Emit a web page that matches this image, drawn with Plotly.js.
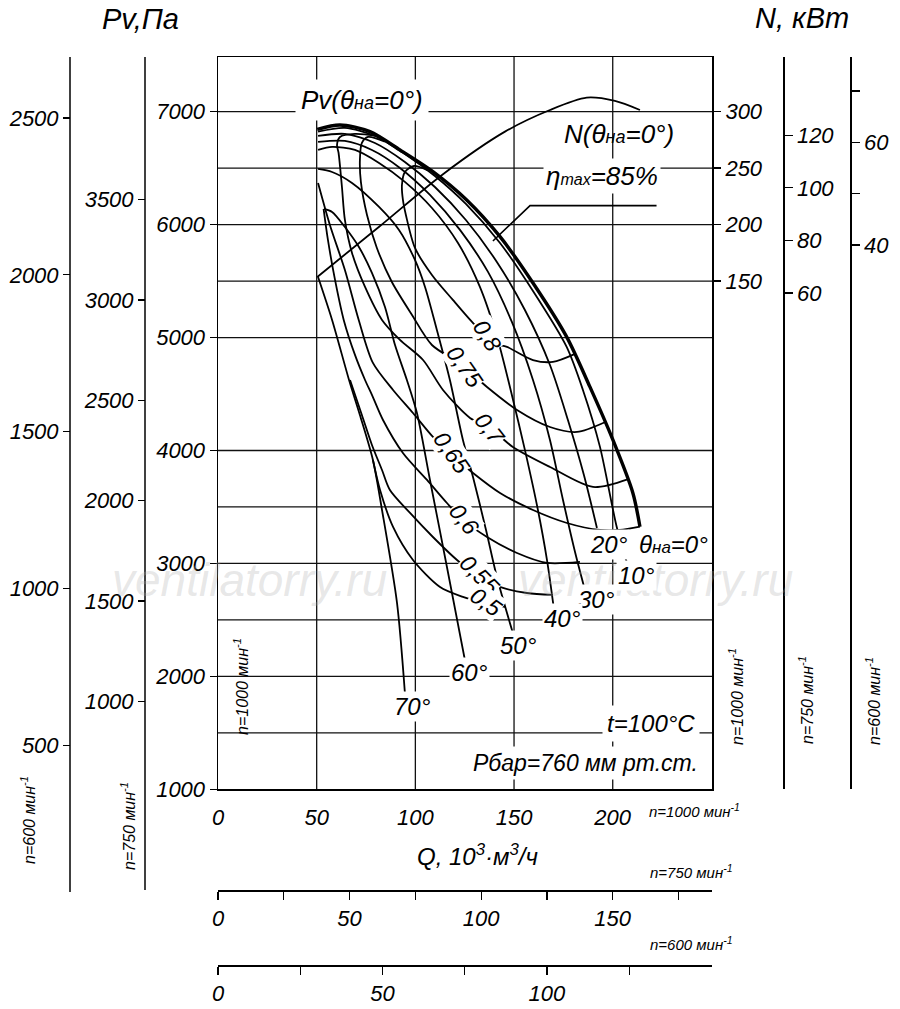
<!DOCTYPE html>
<html><head><meta charset="utf-8">
<script src="https://cdn.plot.ly/plotly-3.0.1.min.js"></script>
<style>html,body{margin:0;padding:0;background:#fff}#chart{width:900px;height:1009px}</style>
</head><body><div id="chart"></div>
<script>
// ---------- data (Q in 10^3 m3/h at n=1000, Pv in Pa, N in kW) ----------
const q_t0  = [50.3, 61.8, 77.0, 92.2, 108.9, 126.0, 142.9, 159.6, 176.6, 188.4, 200.1, 210.2, 213.8];
const pv_t0 = [6844, 6882, 6823, 6661, 6469, 6218, 5893, 5483, 5008, 4565, 4093, 3624, 3325];
const q_t10  = [50.7, 64.3, 79.5, 94.7, 109.9, 125.6, 142.9, 159.6, 176.6, 184.9, 193.5, 202.0, 207.7];
const pv_t10 = [6823, 6856, 6785, 6626, 6431, 6183, 5837, 5412, 4919, 4536, 4034, 3325, 2977];
const q_t20  = [50.7, 64.3, 79.5, 94.7, 109.9, 125.6, 141.3, 155.5, 168.2, 177.3, 185.4, 192.0];
const pv_t20 = [6785, 6803, 6723, 6555, 6333, 6041, 5669, 5244, 4757, 4270, 3783, 3314];
const q_t30  = [50.7, 64.3, 78.0, 92.2, 107.4, 122.6, 136.8, 148.9, 159.6, 168.2, 174.8, 180.9, 185.9];
const pv_t30 = [6732, 6741, 6661, 6502, 6263, 5953, 5581, 5138, 4624, 4093, 3562, 3101, 2765];
const q_t40  = [50.7, 57.8, 69.4, 81.6, 94.7, 108.4, 121.6, 132.7, 141.8, 148.9, 155.5, 162.1, 166.7, 170.2];
const pv_t40 = [6661, 6688, 6661, 6546, 6378, 6147, 5837, 5448, 4979, 4492, 4005, 3473, 3030, 2597];
const q_t50  = [50.7, 57.8, 67.9, 81.6, 91.7, 99.8, 104.9, 110.9, 117.5, 124.1, 129.2, 135.8, 141.3, 149.4];
const pv_t50 = [6493, 6466, 6369, 6156, 5953, 5687, 5448, 5067, 4624, 4093, 3765, 3296, 2880, 2384];
const q_t60  = [53.7, 57.8, 64.3, 71.4, 78.0, 84.6, 89.7, 95.7, 100.8, 107.4, 116.0, 125.1];
const pv_t60 = [6139, 6112, 5979, 5802, 5572, 5271, 4934, 4624, 4332, 3739, 2968, 2145];
const q_t70  = [50.7, 57.8, 66.4, 71.9, 78.5, 83.1, 90.7, 94.7];
const pv_t70 = [5536, 5156, 4624, 4314, 3916, 3473, 2650, 1853];

const q_e80  = [106.4, 99.3, 94.7, 93.2, 93.7, 95.2, 99.8, 108.4, 119.0, 128.7, 139.3, 146.4, 159.6, 169.7, 180.9];
const pv_e80 = [6480, 6519, 6466, 6351, 6218, 6085, 5793, 5554, 5333, 5138, 4952, 4917, 4801, 4784, 4855];
const q_e75  = [84.6, 76.0, 72.9, 71.9, 72.4, 75.5, 80.5, 88.1, 98.3, 108.4, 123.6, 136.3, 151.5, 168.2, 181.9, 196.0];
const pv_e75 = [6735, 6776, 6723, 6572, 6378, 6085, 5793, 5492, 5200, 4934, 4757, 4562, 4359, 4208, 4164, 4250];
const q_e70  = [81.1, 69.4, 61.8, 60.3, 61.1, 62.8, 64.3, 67.9, 74.5, 83.1, 92.2, 103.9, 114.0, 127.7, 137.8, 149.4, 168.2, 190.0, 207.5];
const pv_e70 = [6785, 6803, 6776, 6705, 6634, 6333, 6041, 5749, 5448, 5156, 4979, 4801, 4536, 4288, 4199, 4031, 3854, 3677, 3745];
const q_e65  = [50.7, 56.7, 64.3, 71.3, 78.5, 88.7, 98.8, 108.9, 118.5, 129.2, 142.9, 159.6, 176.8, 193.5, 203.6, 213.8];
const pv_e65 = [6369, 5997, 5598, 5156, 4775, 4536, 4332, 4120, 3960, 3801, 3624, 3473, 3358, 3296, 3296, 3325];
const q_e60  = [53.5, 55.7, 59.3, 63.7, 69.4, 74.5, 78.0, 83.6, 93.7, 105.9, 116.0, 124.1, 136.3, 151.5, 166.7, 183.4];
const pv_e60 = [6139, 5864, 5510, 5156, 4846, 4624, 4492, 4270, 3978, 3739, 3535, 3385, 3234, 3092, 3004, 3013];
const q_e55  = [66.9, 72.9, 78.0, 83.1, 87.1, 97.3, 108.9, 121.1, 132.7, 144.4, 156.5, 169.7];
const pv_e55 = [4624, 4314, 4049, 3827, 3650, 3447, 3234, 3030, 2871, 2783, 2738, 2721];
const q_e50  = [78.5, 82.1, 88.7, 98.8, 112.5, 124.1, 134.2, 145.9];
const pv_e50 = [3916, 3650, 3323, 3030, 2791, 2703, 2650, 2614];

const q_N = [50.3, 82.1, 113.5, 145.4, 168.2, 186.8, 201.1, 213.8];
const n_N = [153.6, 198.8, 244.0, 282.3, 301.5, 312.4, 309.5, 301.5];

const q_ptr  = [139.3, 158.1, 222.2];
const pv_ptr = [5855, 6168, 6168];

const gridPv = [1500, 2000, 2500, 3000, 3500, 4000, 5000, 5500, 6000, 6500, 7000];
const gridQ  = [50, 100, 150, 200];

const pvTicks1000 = [1000, 2000, 3000, 4000, 5000, 6000, 7000];
const pvTicks750  = [1000, 1500, 2000, 2500, 3000, 3500];
const pvTicks600  = [500, 1000, 1500, 2000, 2500];
const nTicks1000 = [150, 200, 250, 300];
const nTicks750  = [60, 80, 100, 120];
const nTicks600  = [40, 50, 60, 70];
const nText600   = ['40', ' ', '60', ' '];
const qTicks1000 = [0, 50, 100, 150, 200];
const qTicks750  = [0, 25, 50, 75, 100, 125, 150, 175];
const qText750   = ['0', ' ', '50', ' ', '100', ' ', '150', ' '];
const qTicks600  = [0, 25, 50, 75, 100, 125];
const qText600   = ['0', ' ', '50', ' ', '100', ' '];

const effLabels = ['0,8', '0,75', '0,7', '0,65', '0,6', '0,55', '0,5'];
const effLabQ   = [136.5, 125.1, 137.8, 118.5, 124.6, 132.7, 135.8];
const effLabPv  = [5014, 4739, 4190, 3978, 3393, 2898, 2659];
const degLabels = ['20°', 'θ<span style="font-size:17px">на</span>=0°', '10°', '30°', '40°', '50°', '60°', '70°'];
const degLabQ   = [198.1, 231.0, 211.8, 192.0, 174.3, 152.5, 127.2, 98.8];
const degLabPv  = [3172, 3172, 2889, 2685, 2508, 2269, 2030, 1729];

// ---------- scales ----------
const QMAX = 250.3, PVMIN = 1000, PVMAX = 7484;
const K750 = 0.5625, K600 = 0.36;        // pressure ratio for other speeds
const KN750 = 0.43, KN600 = 0.22;        // power axis ratios
const NMIN = PVMIN / 10 - 400, NMAX = PVMAX / 10 - 400;

const PX = x => (x - 70) / 780, PY = y => (965 - y) / 908;
const XD = [PX(218), PX(712)], YD0 = PY(789.3);

const FAM = 'Liberation Sans, Arial, sans-serif';
const f = (s, c) => ({family: FAM, style: 'italic', size: s, color: c || '#000'});

function curve(q, v, w, yax, shape) {
  return {x: q, y: v, type: 'scatter', mode: 'lines', yaxis: yax || 'y', hoverinfo: 'skip',
    line: {color: '#000', width: w, shape: shape || 'spline', smoothing: 0.8}};
}
const traces = [
  curve(q_t10, pv_t10, 1.8), curve(q_t20, pv_t20, 1.8), curve(q_t30, pv_t30, 1.8),
  curve(q_t40, pv_t40, 1.8), curve(q_t50, pv_t50, 1.8), curve(q_t60, pv_t60, 1.8),
  curve(q_t70, pv_t70, 1.8),
  curve(q_e80, pv_e80, 1.8), curve(q_e75, pv_e75, 1.8), curve(q_e70, pv_e70, 1.8),
  curve(q_e65, pv_e65, 1.8), curve(q_e60, pv_e60, 1.8), curve(q_e55, pv_e55, 1.8),
  curve(q_e50, pv_e50, 1.8),
  curve(q_t0, pv_t0, 3.4),
  curve(q_N, n_N, 1.8, 'y4'),
  curve(q_ptr, pv_ptr, 1.6, 'y', 'linear'),
  {x: [null], y: [null], yaxis: 'y2', type: 'scatter', hoverinfo: 'skip'},
  {x: [null], y: [null], yaxis: 'y3', type: 'scatter', hoverinfo: 'skip'},
  {x: [null], y: [null], yaxis: 'y5', type: 'scatter', hoverinfo: 'skip'},
  {x: [null], y: [null], yaxis: 'y6', type: 'scatter', hoverinfo: 'skip'},
  {x: [null], y: [null], xaxis: 'x2', type: 'scatter', hoverinfo: 'skip'},
  {x: [null], y: [null], xaxis: 'x3', type: 'scatter', hoverinfo: 'skip'}
];

const GRID = {color: '#111', width: 1.3};
const shapes = gridPv.map(v => ({type: 'line', xref: 'x', yref: 'y', x0: 0, x1: QMAX, y0: v, y1: v, line: GRID, layer: 'below'}));
gridQ.forEach(q => shapes.push({type: 'line', xref: 'x', yref: 'y', x0: q, x1: q, y0: PVMIN, y1: PVMAX, line: GRID, layer: 'below'}));
// full-length lines of the two left speed axes (they run below the plot frame)
shapes.push({type: 'line', xref: 'paper', yref: 'paper', x0: 0, x1: 0, y0: PY(892), y1: 1, line: {color: '#000', width: 1.5}, layer: 'above'});
shapes.push({type: 'line', xref: 'paper', yref: 'paper', x0: PX(145), x1: PX(145), y0: PY(890), y1: 1, line: {color: '#000', width: 1.5}, layer: 'above'});

const ann = [];
function pa(x, y, text, size, extra) {
  ann.push(Object.assign({xref: 'paper', yref: 'paper', x: PX(x), y: PY(y), text: text, showarrow: false,
    font: f(size), xanchor: 'center', yanchor: 'middle', bgcolor: 'rgba(0,0,0,0)'}, extra || {}));
}
function da(q, v, text, size, extra) {
  ann.push(Object.assign({xref: 'x', yref: 'y', x: q, y: v, text: text, showarrow: false,
    font: f(size), xanchor: 'center', yanchor: 'middle'}, extra || {}));
}
// watermark
pa(249, 580, 'ventilatorry.ru', 46, {font: f(46, 'rgba(175,175,175,0.3)')});
pa(655, 580, 'ventilatorry.ru', 46, {font: f(46, 'rgba(175,175,175,0.3)')});
// titles
pa(140, 19, 'Pv,Па', 29);
pa(802, 18, 'N, кВm', 29);
pa(477, 855, 'Q, 10<sup>3</sup>·м<sup>3</sup>/ч', 24);
pa(694, 810, 'n=1000 мин<sup>-1</sup>', 15);
pa(691, 871, 'n=750 мин<sup>-1</sup>', 15);
pa(691, 943, 'n=600 мин<sup>-1</sup>', 15);
pa(241, 687, 'n=1000 мин<sup>-1</sup>', 16, {textangle: -90});
pa(736, 697, 'n=1000 мин<sup>-1</sup>', 16, {textangle: -90});
pa(806, 700, 'n=750 мин<sup>-1</sup>', 16, {textangle: -90});
pa(873, 701, 'n=600 мин<sup>-1</sup>', 16, {textangle: -90});
pa(28, 820, 'n=600 мин<sup>-1</sup>', 16, {textangle: -90});
pa(128, 826, 'n=750 мин<sup>-1</sup>', 16, {textangle: -90});
// curve labels
da(72.9, 7104, 'Pv(θ<span style="font-size:18px">на</span>=0°)', 26, {bgcolor: '#fff', borderpad: 5});
da(203.1, 6803, 'N(θ<span style="font-size:18px">на</span>=0°)', 26);
da(194.5, 6431, 'η<span style="font-size:16px">max</span>=85%', 26, {bgcolor: '#fff', borderpad: 2});
da(219.4, 1587, 't=100°C', 24, {bgcolor: '#fff', borderpad: 4});
da(186.4, 1233, 'Рбар=760 мм рт.ст.', 23, {bgcolor: '#fff', borderpad: 3});
const effAngles = [58, 55, 52, 55, 52, 45, 35];
effLabels.forEach((t, i) => da(effLabQ[i], effLabPv[i], t, 23, {bgcolor: '#fff', borderpad: 0, textangle: effAngles[i]}));
degLabels.forEach((t, i) => da(degLabQ[i], degLabPv[i], t, 24, {bgcolor: '#fff', borderpad: 1}));

const axBase = {showgrid: false, zeroline: false, ticks: 'outside', tickcolor: '#000', tickwidth: 1.3,
  linecolor: '#000', linewidth: 1.5, tickfont: f(22), fixedrange: true};
const layout = {
  width: 900, height: 1009,
  margin: {l: 70, r: 50, t: 57, b: 44, pad: 0},
  paper_bgcolor: '#fff', plot_bgcolor: 'rgba(0,0,0,0)',
  showlegend: false,
  font: f(22),
  xaxis: Object.assign({}, axBase, {domain: XD, range: [0, QMAX], tickvals: qTicks1000,
    showline: true, mirror: true, ticks: '', ticklabelstandoff: 8, anchor: 'y'}),
  yaxis: Object.assign({}, axBase, {domain: [YD0, 1], range: [PVMIN, PVMAX], tickvals: pvTicks1000,
    showline: true, mirror: true, ticklen: 7, anchor: 'x'}),
  yaxis2: Object.assign({}, axBase, {overlaying: 'y', anchor: 'free', position: PX(145), side: 'left',
    domain: [YD0, 1], range: [PVMIN * K750, PVMAX * K750], tickvals: pvTicks750, showline: false, ticklen: 7}),
  yaxis3: Object.assign({}, axBase, {overlaying: 'y', anchor: 'free', position: 0, side: 'left',
    domain: [YD0, 1], range: [PVMIN * K600, PVMAX * K600], tickvals: pvTicks600, showline: false, ticklen: 7}),
  yaxis4: Object.assign({}, axBase, {overlaying: 'y', anchor: 'x', side: 'right',
    domain: [YD0, 1], range: [NMIN, NMAX], tickvals: nTicks1000, showline: false, ticklen: 8}),
  yaxis5: Object.assign({}, axBase, {overlaying: 'y', anchor: 'free', position: PX(783), side: 'right',
    domain: [YD0, 1], range: [NMIN * KN750, NMAX * KN750], tickvals: nTicks750, showline: true, ticklen: 8}),
  yaxis6: Object.assign({}, axBase, {overlaying: 'y', anchor: 'free', position: 1, side: 'right',
    domain: [YD0, 1], range: [NMIN * KN600, NMAX * KN600], tickvals: nTicks600, ticktext: nText600, showline: true, ticklen: 8}),
  xaxis2: Object.assign({}, axBase, {overlaying: 'x', anchor: 'free', position: PY(890), side: 'bottom',
    domain: XD, range: [0, QMAX * 0.75], tickvals: qTicks750, ticktext: qText750, showline: true, ticklen: 8}),
  xaxis3: Object.assign({}, axBase, {overlaying: 'x', anchor: 'free', position: 0, side: 'bottom',
    domain: XD, range: [0, QMAX * 0.6], tickvals: qTicks600, ticktext: qText600, showline: true, ticklen: 8}),
  shapes: shapes,
  annotations: ann
};
Plotly.newPlot('chart', traces, layout, {displayModeBar: false, staticPlot: true});
</script>
</body></html>
